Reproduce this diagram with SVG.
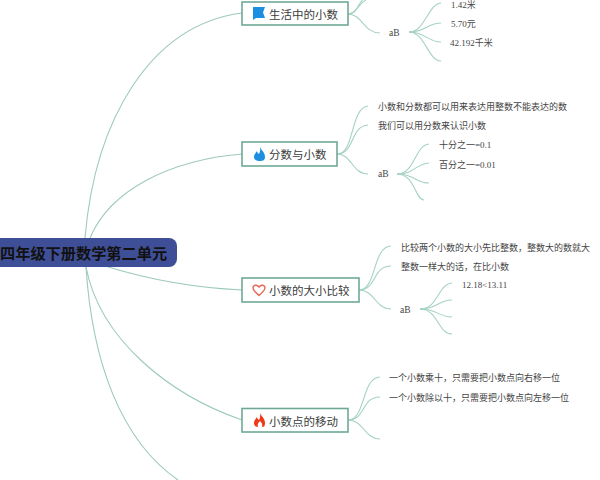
<svg xmlns="http://www.w3.org/2000/svg" width="600" height="480" viewBox="0 0 600 480">
<style>
.c{fill:none;stroke:#a5d2c2;stroke-width:1.100}
.r{fill:none;stroke:#9ccab9;stroke-width:1.100}
.n{fill:#fff;stroke:#6fa898;stroke-width:1.600}
text{font-family:"Liberation Serif","Noto Sans CJK SC",sans-serif;fill:#444}
.t{font-family:"Noto Sans CJK SC","Liberation Sans",sans-serif;font-size:11.500px;fill:#3c3c3c}
.l{font-family:"Liberation Serif","Noto Sans CJK SC",serif;font-size:9px;fill:#444}
.m{font-family:"Liberation Serif","Noto Sans CJK SC",serif;font-size:9.500px;fill:#444}
</style>
<rect width="600" height="480" fill="#fff"/>
<g id="connectors">
<path class="r" d="M85 238C95 120 150 25 242 13"/>
<path class="r" d="M90 238C110 190 170 160 242 154"/>
<path class="r" d="M105 266C150 280 200 288 242 290"/>
<path class="r" d="M86 267C100 340 170 395 242 420"/>
<path class="r" d="M86 267C92 360 120 440 178 480"/>
<path class="c" d="M348 14C358 14 358 2 363 0"/>
<path class="c" d="M348 14C356 14 358 4 366 0"/>
<path class="c" d="M348 14C362 14 364 33 380 33"/>
<path class="c" d="M409 32C425 32 428 4 441 3"/>
<path class="c" d="M409 32C425 32 428 23 441 23"/>
<path class="c" d="M409 32C425 32 428 42 441 42"/>
<path class="c" d="M409 32C425 32 428 61 441 61"/>
<path class="c" d="M337 154C355 154 350 108 368 106"/>
<path class="c" d="M337 154C355 154 350 126 368 125"/>
<path class="c" d="M337 154C352 154 352 174 368 174"/>
<path class="c" d="M397 174C415 174 415 145 429 144"/>
<path class="c" d="M397 174C415 174 415 164 429 163"/>
<path class="c" d="M397 174C415 174 415 183 429 183"/>
<path class="c" d="M397 174C415 174 415 200 424 200"/>
<path class="c" d="M359 290C377 290 372 247 391 246"/>
<path class="c" d="M359 290C377 290 372 266 391 266"/>
<path class="c" d="M359 290C375 290 375 309 391 309"/>
<path class="c" d="M420 309C438 309 438 284 452 283"/>
<path class="c" d="M420 309C438 309 438 300 452 300"/>
<path class="c" d="M420 309C438 309 438 317 452 317"/>
<path class="c" d="M420 309C438 309 438 334 452 334"/>
<path class="c" d="M348 420C366 420 361 378 380 377"/>
<path class="c" d="M348 420C366 420 361 397 380 397"/>
<path class="c" d="M348 420C364 420 364 439 380 439"/>
</g>
<g id="root">
<rect x="-20" y="238" width="197" height="29" rx="8" fill="#3f4f97"/>
<text x="0" y="259" font-size="15.200" font-weight="700" style="font-family:'Noto Sans CJK SC',sans-serif;fill:#111">四年级下册数学第二单元</text>
</g>
<g id="node1">
<rect class="n" x="242" y="2" width="106" height="23"/>
<path d="M253 7H265L263 12.500L265 18H256L253 20Z" fill="#1d8fe0"/>
<text class="t" x="269" y="18.500">生活中的小数</text>
</g>
<g id="node2">
<rect class="n" x="242" y="142" width="95" height="24"/>
<path d="M260 147C261 150 265 152 265 157C265 160 263 161 260 161C257 161 254 160 254 157C254 154 256 153 257 151C257.500 153 258 153.500 259 154C260 152 260.500 150 260 147Z" fill="#1d8fe0"/>
<text class="t" x="269" y="159">分数与小数</text>
</g>
<g id="node3">
<rect class="n" x="242" y="278" width="117" height="24"/>
<path d="M259 295.500C255 292 253 290 253 288C253 285 257 284 259 287C261 284 265 285 265 288C265 290 263 292 259 295.500Z" fill="none" stroke="#e8695a" stroke-width="1.400"/>
<text class="t" x="269" y="295">小数的大小比较</text>
</g>
<g id="node4">
<rect class="n" x="242" y="408.500" width="106" height="23.500"/>
<path d="M260 413C261 416 265 418 265 423C265 426 264 427 262 427C263 424 261 422 260 421C259 422 257 424 258 427C256 427 254 426 254 423C254 420 256 419 257 417C257.500 419 258 419.500 259 420C260 418 260.500 416 260 413Z" fill="#f03a17"/>
<text class="t" x="269" y="426">小数点的移动</text>
</g>
<g id="leaves">
<text class="m" x="389" y="36">aB</text>
<text class="l" x="451" y="8">1.42米</text>
<text class="l" x="451" y="27">5.70元</text>
<text class="l" x="450" y="46">42.192千米</text>
<text class="l" x="378" y="110">小数和分数都可以用来表达用整数不能表达的数</text>
<text class="l" x="378" y="129">我们可以用分数来认识小数</text>
<text class="m" x="378" y="177">aB</text>
<text class="l" x="439" y="148">十分之一=0.1</text>
<text class="l" x="439" y="168">百分之一=0.01</text>
<text class="l" x="401" y="251">比较两个小数的大小先比整数，整数大的数就大</text>
<text class="l" x="401" y="270">整数一样大的话，在比小数</text>
<text class="m" x="400" y="313">aB</text>
<text class="l" x="462" y="288">12.18&lt;13.11</text>
<text class="l" x="389" y="381">一个小数乘十，只需要把小数点向右移一位</text>
<text class="l" x="389" y="401">一个小数除以十，只需要把小数点向左移一位</text>
</g>
</svg>
